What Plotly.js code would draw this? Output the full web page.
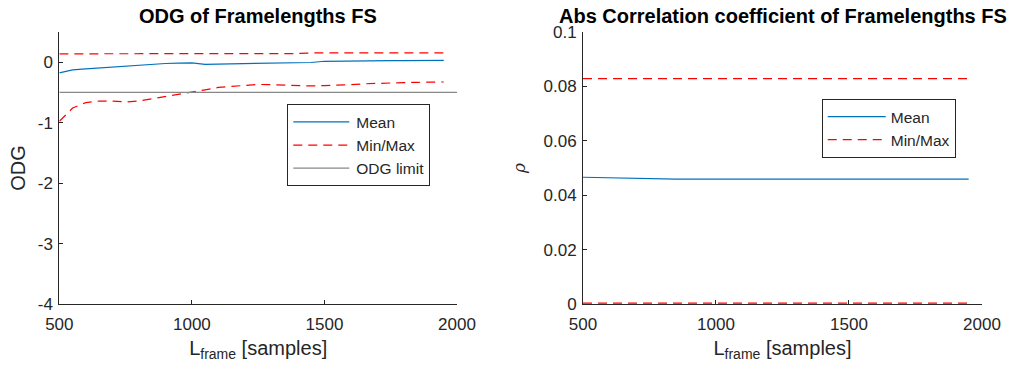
<!DOCTYPE html>
<html><head><meta charset="utf-8">
<script src="https://cdn.plot.ly/plotly-3.0.1.min.js"></script>
<style>html,body{margin:0;padding:0;background:#fff}#chart{width:1018px;height:374px}</style>
</head><body><div id="chart"></div>
<script>
// Frame lengths (samples)
const frameLengths = [500,550,600,650,700,750,800,850,900,950,1000,1050,1100,1150,1200,1250,1300,1350,1400,1450,1500,1550,1600,1650,1700,1750,1800,1850,1900,1950];

// Left: ODG
const odgMean = [-0.18,-0.13,-0.115,-0.10,-0.085,-0.075,-0.062,-0.035,-0.025,-0.02,-0.016,-0.038,-0.035,-0.032,-0.029,-0.026,-0.022,-0.018,-0.013,-0.008,0.012,0.016,0.018,0.02,0.021,0.022,0.023,0.024,0.025,0.026];
const odgMax  = [0.135,0.135,0.135,0.135,0.135,0.135,0.135,0.135,0.135,0.135,0.135,0.14,0.14,0.14,0.14,0.14,0.14,0.14,0.14,0.15,0.15,0.15,0.15,0.15,0.15,0.15,0.15,0.15,0.15,0.15];
const odgMin  = [-0.98,-0.76,-0.67,-0.645,-0.645,-0.66,-0.645,-0.61,-0.57,-0.535,-0.50,-0.46,-0.42,-0.40,-0.385,-0.37,-0.375,-0.385,-0.395,-0.395,-0.39,-0.385,-0.375,-0.36,-0.35,-0.345,-0.34,-0.335,-0.33,-0.33];
const odgLimitX = [500, 2000];
const odgLimit = [-0.5, -0.5];

// Right: abs correlation coefficient
const rhoMean = [0.0466,0.0465,0.0463,0.0461,0.0460,0.0459,0.0459,0.0459,0.0459,0.0459,0.0459,0.0459,0.0459,0.0459,0.0459,0.0459,0.0459,0.0459,0.0459,0.0459,0.0459,0.0459,0.0459,0.0459,0.0459,0.0459,0.0459,0.0459,0.0459,0.0459];
const rhoMax  = [0.0828,0.0828,0.0828,0.0828,0.0828,0.0828,0.0828,0.0828,0.0828,0.0828,0.0828,0.0828,0.0828,0.0828,0.0828,0.0828,0.0828,0.0828,0.0828,0.0828,0.0828,0.0828,0.0828,0.0828,0.0828,0.0828,0.0828,0.0828,0.0828,0.0828];
const rhoMin  = [0.0004,0.0004,0.0004,0.0004,0.0004,0.0004,0.0004,0.0004,0.0004,0.0004,0.0004,0.0004,0.0004,0.0004,0.0004,0.0004,0.0004,0.0004,0.0004,0.0004,0.0004,0.0004,0.0004,0.0004,0.0004,0.0004,0.0004,0.0004,0.0004,0.0004];

const xTicks = [500, 1000, 1500, 2000];
const odgTicks = [-4, -3, -2, -1, 0];
const odgTickText = ['-4', '-3', '-2', '-1', '0'];
const rhoTicks = [0, 0.02, 0.04, 0.06, 0.08, 0.1];
const rhoTickText = ['0', '0.02', '0.04', '0.06', '0.08', '0.1'];

const titles = ['ODG of Framelengths FS', 'Abs Correlation coefficient of Framelengths FS'];
const xLabel = 'L<sub>frame</sub> [samples]';

const BLUE = '#0072BD', RED = '#FF0000', GRAY = '#888888', INK = '#262626';
const DASH = '9px,6px';
const FONT = 'Liberation Sans, Arial, Helvetica, sans-serif';

const traces = [
  {x: frameLengths, y: odgMean, xaxis:'x', yaxis:'y', mode:'lines', name:'Mean', legend:'legend',
   line:{color:BLUE, width:1.2}},
  {x: frameLengths, y: odgMax, xaxis:'x', yaxis:'y', mode:'lines', name:'Min/Max', legend:'legend',
   line:{color:RED, width:1.2, dash:DASH}},
  {x: frameLengths, y: odgMin, xaxis:'x', yaxis:'y', mode:'lines', name:'Min/Max', legend:'legend', showlegend:false,
   line:{color:RED, width:1.2, dash:DASH}},
  {x: odgLimitX, y: odgLimit, xaxis:'x', yaxis:'y', mode:'lines', name:'ODG limit', legend:'legend',
   line:{color:GRAY, width:1.2}},
  {x: frameLengths, y: rhoMean, xaxis:'x2', yaxis:'y2', mode:'lines', name:'Mean', legend:'legend2',
   line:{color:BLUE, width:1.2}},
  {x: frameLengths, y: rhoMax, xaxis:'x2', yaxis:'y2', mode:'lines', name:'Min/Max', legend:'legend2',
   line:{color:RED, width:1.2, dash:DASH}},
  {x: frameLengths, y: rhoMin, xaxis:'x2', yaxis:'y2', mode:'lines', name:'Min/Max', legend:'legend2', showlegend:false,
   line:{color:RED, width:1.2, dash:DASH}}
];

function xAxis(domain, anchor) {
  return {domain: domain, anchor: anchor, range:[500, 2000], tickvals: xTicks,
    ticks:'inside', ticklen:4, tickcolor:INK, showline:true, linecolor:INK, linewidth:1,
    showgrid:false, zeroline:false, layer:'below traces', automargin:false,
    tickfont:{size:17, color:INK, family:FONT}, ticklabelstandoff:4,
    title:{text:xLabel, font:{size:20, color:INK, family:FONT}, standoff:8}};
}
function yAxis(domain, anchor, range, tv, tt, title, tfont, standoff) {
  return {domain: domain, anchor: anchor, range: range, tickvals: tv, ticktext: tt,
    ticks:'inside', ticklen:4, tickcolor:INK, showline:true, linecolor:INK, linewidth:1,
    showgrid:false, zeroline:false, layer:'below traces', automargin:false,
    tickfont:{size:17, color:INK, family:FONT}, ticklabelstandoff:2,
    title:{text:title, font:tfont, standoff:standoff}};
}

const yDom = [0.1864, 0.9152];
const legendCommon = {bgcolor:'#ffffff', bordercolor:INK, borderwidth:1,
  font:{size:15.5, color:INK, family:FONT}, xanchor:'left', yanchor:'top',
  itemwidth:58, tracegroupgap:0, itemclick:false, itemdoubleclick:false};

const layout = {
  width:1018, height:374, margin:{l:0, r:0, t:0, b:0},
  paper_bgcolor:'#ffffff', plot_bgcolor:'#ffffff',
  font:{family:FONT, color:INK},
  xaxis: xAxis([0.0583, 0.4489], 'y'),
  yaxis: yAxis(yDom, 'x', [-4, 0.5], odgTicks, odgTickText, 'ODG', {size:20, color:INK, family:FONT}, 6),
  xaxis2: xAxis([0.5727, 0.9646], 'y2'),
  yaxis2: yAxis(yDom, 'x2', [0, 0.1], rhoTicks, rhoTickText, '<i>ρ</i>', {size:17, color:INK, family:'DejaVu Serif, serif'}, 13),
  legend: Object.assign({x:0.2822, y:0.7211}, legendCommon),
  legend2: Object.assign({x:0.8072, y:0.7353}, legendCommon),
  annotations: [
    {text:'<b>'+titles[0]+'</b>', xref:'paper', yref:'paper', x:0.2534, y:0.9560, xanchor:'center', yanchor:'middle',
     showarrow:false, font:{size:20, color:'#000000', family:FONT}},
    {text:'<b>'+titles[1]+'</b>', xref:'paper', yref:'paper', x:0.7687, y:0.9560, xanchor:'center', yanchor:'middle',
     showarrow:false, font:{size:20, color:'#000000', family:FONT}}
  ],
  showlegend:true
};

Plotly.newPlot('chart', traces, layout, {staticPlot:true, displayModeBar:false}).then(function(gd){
  // stretch legend line samples to MATLAB-like length
  gd.querySelectorAll('.legend .js-line').forEach(function(p){ p.setAttribute('d','M5,0h56'); });
});
</script></body></html>
